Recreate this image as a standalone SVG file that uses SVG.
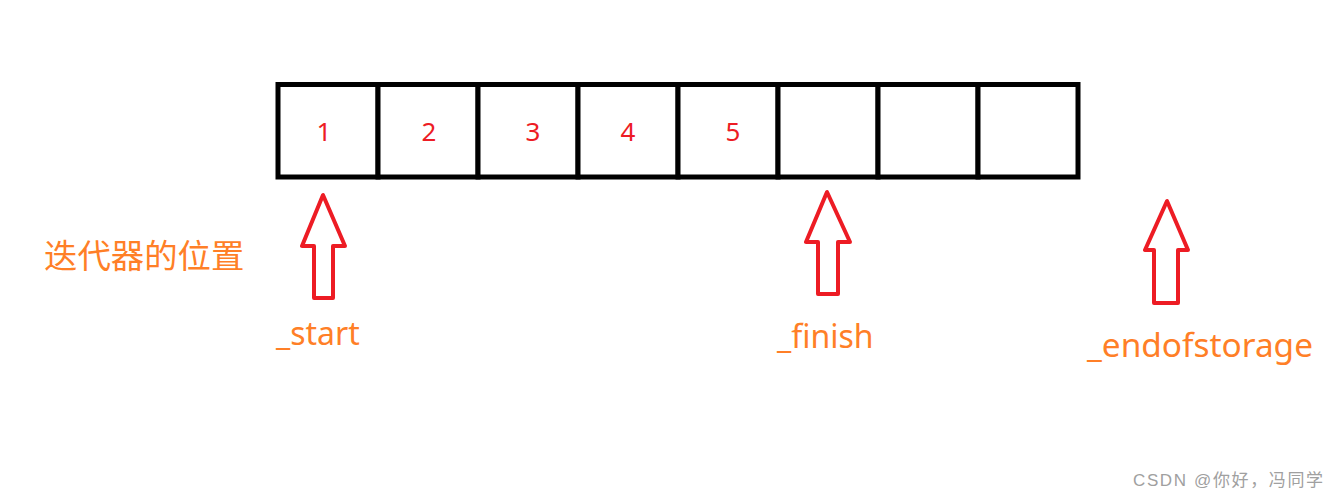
<svg xmlns="http://www.w3.org/2000/svg" width="1338" height="498" viewBox="0 0 1338 498">
<style>
.cell{fill:#fff;stroke:#000;stroke-width:5}
.num{font-family:"Noto Sans","Liberation Sans",sans-serif;font-size:26px;fill:#ED1C24;text-anchor:middle}
.arr{fill:none;stroke:#ED1C24;stroke-width:4;stroke-linejoin:round}
.lbl{font-family:"Noto Sans","Noto Sans CJK SC",sans-serif;font-size:32px;fill:#FF7F27}
.wm{font-family:"Liberation Sans","Noto Sans CJK SC",sans-serif;font-size:17px;fill:#a0a0a0}
</style>
<rect width="1338" height="498" fill="#fff"/>
<g id="array">
<rect class="cell" x="278" y="84.5" width="100" height="92.5"/>
<rect class="cell" x="378" y="84.5" width="100" height="92.5"/>
<rect class="cell" x="478" y="84.5" width="100" height="92.5"/>
<rect class="cell" x="578" y="84.5" width="100" height="92.5"/>
<rect class="cell" x="678" y="84.5" width="100" height="92.5"/>
<rect class="cell" x="778" y="84.5" width="100" height="92.5"/>
<rect class="cell" x="878" y="84.5" width="100" height="92.5"/>
<rect class="cell" x="978" y="84.5" width="100" height="92.5"/>
<text class="num" x="324" y="141">1</text>
<text class="num" x="429" y="141">2</text>
<text class="num" x="533" y="141">3</text>
<text class="num" x="628" y="141">4</text>
<text class="num" x="733" y="141">5</text>
</g>
<g id="connectors">
<path class="arr" d="M323,195 L302,246 L314,246 L314,298 L333,298 L333,246 L345,246 Z"/>
<path class="arr" d="M827,192 L806,242 L818,242 L818,294 L838,294 L838,242 L850,242 Z"/>
<path class="arr" d="M1167,201 L1145,250 L1154,250 L1154,303 L1178,303 L1178,250 L1188,250 Z"/>
</g>
<g id="label-iter"><text class="lbl" x="44" y="268" style="font-size:33.4px">迭代器的位置</text></g>
<g id="label-start"><text class="lbl" x="276" y="345">_start</text></g>
<g id="label-finish"><text class="lbl" x="777" y="348">_finish</text></g>
<g id="label-end"><text class="lbl" x="1087" y="357" style="font-size:33.4px">_endofstorage</text></g>
<text class="wm" x="1133" y="486" textLength="190" lengthAdjust="spacing">CSDN @你好，冯同学</text>
</svg>
